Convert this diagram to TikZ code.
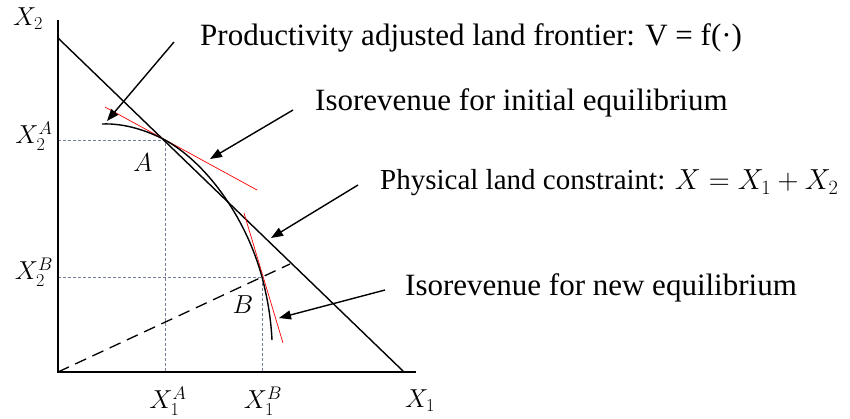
\RequirePackage{fix-cm}
\documentclass[tikz,border=0pt]{standalone}
\usepackage{fontspec}
\setmainfont{Liberation Serif}
\usetikzlibrary{arrows.meta}
\definecolor{guidegray}{rgb}{0.45,0.5,0.6}
\begin{document}
\begin{tikzpicture}[x=1pt,y=-1pt,
  lab/.style={font=\fontsize{31}{34}\selectfont,anchor=west,inner sep=0pt},
  axl/.style={font=\fontsize{26}{30}\selectfont,inner sep=0pt},
  guide/.style={densely dashed,draw=guidegray,line width=0.7pt},
  ptr/.style={-{Triangle[length=12pt,width=9pt]},line width=1.4pt},
  tangent/.style={red,line width=0.7pt}]
\useasboundingbox (0,0) rectangle (850,418);
% coordinates
\coordinate (O) at (58,372);
\coordinate (Ytop) at (58,20);
\coordinate (Xend) at (416,372);
\coordinate (L1) at (58,38);
\coordinate (L2) at (404,372);
\coordinate (A) at (165,140);
\coordinate (B) at (262,277);
% guides
\draw[guide] (58,140) -- (A) -- (165,372);
\draw[guide] (58,277) -- (B) -- (262,372);
% axes
\draw[line width=1.6pt] (Ytop) -- (O) -- (Xend);
% land constraint
\draw[line width=1.4pt] (L1) -- (L2);
% dashed ray
\draw[dashed,dash pattern=on 12pt off 7pt,line width=1.3pt] (O) -- (290,264);
% tangents
\draw[tangent] (105,107) -- (257,190);
\draw[tangent] (244,213) -- (283,343);
% frontier
\draw[line width=1.4pt] (102,124) .. controls (125,123) and (148,131) .. (A)
  .. controls (205,162) and (245,215) .. (B)
  .. controls (268,300) and (271,320) .. (272,340);
% labels
\node[axl] (x2) at (28,19) {$X_2$};
\node[axl] (x2a) at (34,136) {$X_2^A$};
\node[axl] (x2b) at (34,272) {$X_2^B$};
\node[axl] (x1a) at (168,401) {$X_1^A$};
\node[axl] (x1b) at (263,401) {$X_1^B$};
\node[axl] (x1) at (420,401) {$X_1$};
\node[axl] (la) at (143,163) {$A$};
\node[axl] (lb) at (243,305) {$B$};
% texts
\node[lab] (t1) at (200,38) {Productivity adjusted land frontier: V = f(·)};
\node[lab] (t2) at (315,103) {Isorevenue for initial equilibrium};
\node[lab,font=\fontsize{29}{32}\selectfont] (t3) at (380,183) {Physical land constraint: $X = X_1 + X_2$};
\node[lab] (t4) at (405,288) {Isorevenue for new equilibrium};
% pointers
\coordinate (p1s) at (174,42); \coordinate (p1e) at (107,121);
\coordinate (p2s) at (293,110); \coordinate (p2e) at (210,159);
\coordinate (p3s) at (358,185); \coordinate (p3e) at (271,238);
\coordinate (p4s) at (385,290); \coordinate (p4e) at (279,318);
\draw[ptr] (p1s) -- (p1e);
\draw[ptr] (p2s) -- (p2e);
\draw[ptr] (p3s) -- (p3e);
\draw[ptr] (p4s) -- (p4e);
\end{tikzpicture}
\end{document}
